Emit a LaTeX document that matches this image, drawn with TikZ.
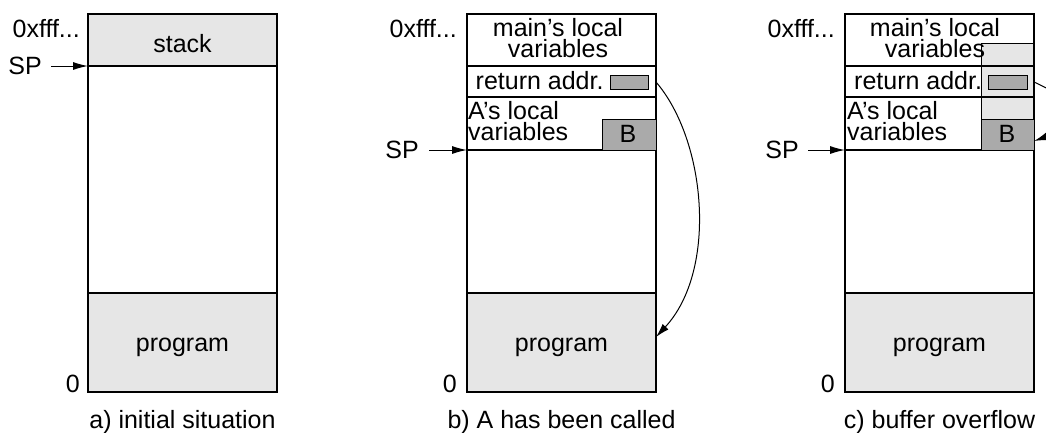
\documentclass[tikz,border=0pt]{standalone}
\usepackage{fontspec}
\setmainfont{Liberation Sans}
\usetikzlibrary{arrows.meta}
\definecolor{lightfill}{HTML}{E6E6E6}
\definecolor{darkfill}{HTML}{AAAAAA}
\tikzset{
  frame/.style={draw=black, line width=1.2pt},
  lightbox/.style={fill=lightfill, draw=black, line width=1.2pt},
  darkbox/.style={fill=darkfill, draw=black, line width=1.2pt},
  txt/.style={inner sep=0pt, font=\fontsize{25}{20.5}\selectfont},
  arr/.style={line width=1pt, -{Latex[length=15pt,width=8pt]}},
  curvearr/.style={line width=1pt, -{Latex[length=14pt,width=8pt]}},
}
\begin{document}
\begin{tikzpicture}[x=1pt, y=-1pt]
\useasboundingbox (0,0) rectangle (1046,432);

% ---------------- panel a ----------------
\path[lightbox] (88,14) rectangle (277,66);
\path[lightbox] (88,293) rectangle (277,392);
\path[frame] (88,14) rectangle (277,392);
\coordinate (a-top) at (88,14);
\coordinate (a-sp) at (88,66);
\node[txt, anchor=base] (a-stack) at (182.5,52) {stack};
\node[txt, anchor=base] (a-prog) at (182.5,351) {program};
\node[txt, anchor=base east] (a-fff) at (80,37) {0xfff...};
\node[txt, anchor=base east] (a-zero) at (80,392) {0};
\node[txt, anchor=east] (a-splabel) at (42,66) {SP};
\draw[arr] ([xshift=9pt]a-splabel.east) -- (a-sp);
\node[txt, anchor=base] (a-cap) at (182.5,428) {a) initial situation};

% ---------------- panel b ----------------
\path[lightbox] (467,293) rectangle (656,392);
\path[frame] (467,14) rectangle (656,392);
\draw[frame] (467,66) -- (656,66);
\draw[frame] (467,97) -- (656,97);
\draw[frame] (467,150) -- (656,150);
\path[darkbox, line width=1pt] (610,75) rectangle (648,89);
\node[inner sep=0pt, minimum width=54pt, minimum height=31pt, darkbox, anchor=north west] (b-B) at (602,119) {};
\node[txt, anchor=base] at (628,142) {B};
\node[txt, anchor=base, align=center] (b-main) at (558,57) {main's local\\variables};
\node[txt, anchor=base west] (b-ret) at (475.5,89) {return addr.};
\node[txt, anchor=base west, align=left] (b-loc) at (468,140) {A's local\\variables};
\node[txt, anchor=base] (b-prog) at (561.5,351) {program};
\node[txt, anchor=base east] (b-fff) at (457,37) {0xfff...};
\node[txt, anchor=base east] (b-zero) at (457,392) {0};
\node[txt, anchor=east] (b-splabel) at (419,150) {SP};
\coordinate (b-sp) at (467,150);
\draw[arr] ([xshift=10pt]b-splabel.east) -- (b-sp);
\coordinate (b-retout) at (656,82);
\coordinate (b-progin) at (656,337);
\draw[curvearr] (b-retout) .. controls (706,140) and (718,270) .. (b-progin);
\node[txt, anchor=base] (b-cap) at (561.5,428) {b) A has been called};

% ---------------- panel c ----------------
\path[lightbox] (845,293) rectangle (1034,392);
\path[fill=lightfill] (981,43) rectangle (1034,119);
\draw[frame] (845,14) rectangle (1034,392);
\draw[frame] (845,66) -- (1034,66);
\draw[frame] (845,97) -- (1034,97);
\draw[frame] (845,150) -- (1034,150);
\draw[line width=1pt] (1034,43) -- (981,43) -- (981,119);
\path[darkbox, line width=1pt] (988,75) rectangle (1027,89);
\node[inner sep=0pt, minimum width=53pt, minimum height=31pt, darkbox, anchor=north west] (c-B) at (981,119) {};
\node[txt, anchor=base] at (1007,142) {B};
\node[txt, anchor=base, align=center] (c-main) at (935,57) {main's local\\variables};
\node[txt, anchor=base west] (c-ret) at (854,89) {return addr.};
\node[txt, anchor=base west, align=left] (c-loc) at (847,140) {A's local\\variables};
\node[txt, anchor=base] (c-prog) at (939.5,351) {program};
\node[txt, anchor=base east] (c-fff) at (835,37) {0xfff...};
\node[txt, anchor=base east] (c-zero) at (835,392) {0};
\node[txt, anchor=east] (c-splabel) at (799,150) {SP};
\coordinate (c-sp) at (845,150);
\draw[arr] ([xshift=9pt]c-splabel.east) -- (c-sp);
\coordinate (c-retout) at (1034,82);
\coordinate (c-Bin) at (1034,141);
\draw[curvearr] (c-retout) .. controls (1085,105) and (1080,125) .. (c-Bin);
\node[txt, anchor=base] (c-cap) at (939.5,428) {c) buffer overflow};
\end{tikzpicture}
\end{document}
